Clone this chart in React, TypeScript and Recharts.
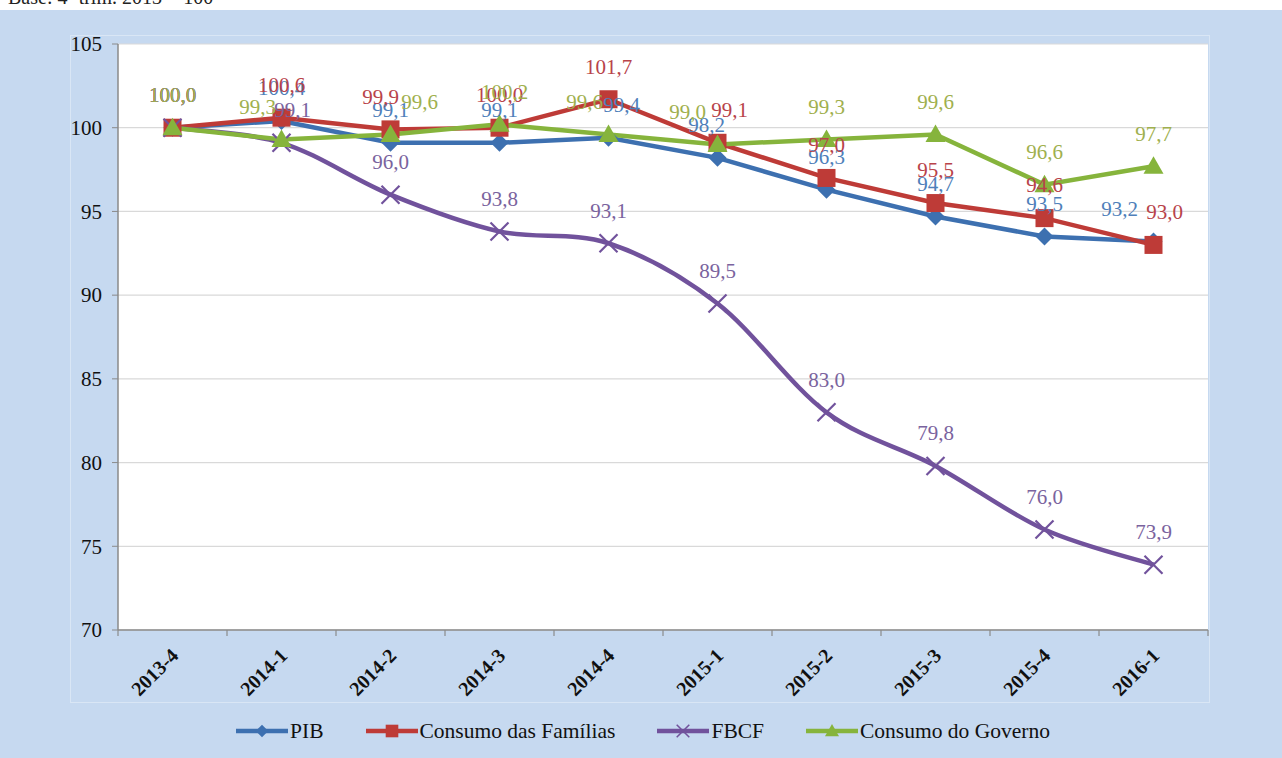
import React from 'react';
import { LineChart, Line, XAxis, YAxis, CartesianGrid, Legend, LabelList } from 'recharts';

const categories = ['2013-4', '2014-1', '2014-2', '2014-3', '2014-4', '2015-1', '2015-2', '2015-3', '2015-4', '2016-1'];
const pib = [100.0, 100.4, 99.1, 99.1, 99.4, 98.2, 96.3, 94.7, 93.5, 93.2];
const familias = [100.0, 100.6, 99.9, 100.0, 101.7, 99.1, 97.0, 95.5, 94.6, 93.0];
const fbcf = [100.0, 99.1, 96.0, 93.8, 93.1, 89.5, 83.0, 79.8, 76.0, 73.9];
const governo = [100.0, 99.3, 99.6, 100.2, 99.6, 99.0, 99.3, 99.6, 96.6, 97.7];
const yTicks = [70, 75, 80, 85, 90, 95, 100, 105];

// horizontal nudges of individual data labels (layout only), as in the reference
const labelShiftPib = [0, 0, 0, 0, 13, -11, 0, 0, 0, -34];
const labelShiftFamilias = [0, 0, -10, 0, 0, 12, 0, 0, 0, 11];
const labelShiftFbcf = [0, 11, 0, 0, 0, 0, 0, 0, 0, 0];
const labelShiftGoverno = [0, -24, 29, 5, -24, -30, 0, 0, 0, 0];

const data = categories.map((c, i) => ({
  cat: c,
  pib: pib[i],
  familias: familias[i],
  fbcf: fbcf[i],
  governo: governo[i],
}));

const FONT = '"Liberation Serif", "Times New Roman", Times, serif';

const COLORS = {
  pib: { line: '#3d70b0', label: '#4f7fba' },
  familias: { line: '#be3b37', label: '#b8434a' },
  fbcf: { line: '#71529c', label: '#7a639e' },
  governo: { line: '#86b43c', label: '#9fb04e' },
};

const fmt = (v: any) => Number(v).toFixed(1).replace('.', ',');

// Excel-like smoothing (Catmull-Rom through the points)
const smoothCurve = (context: any) => {
  let pts: number[][] = [];
  return {
    areaStart() {},
    areaEnd() {},
    lineStart() {
      pts = [];
    },
    point(x: number, y: number) {
      pts.push([+x, +y]);
    },
    lineEnd() {
      if (!pts.length) return;
      context.moveTo(pts[0][0], pts[0][1]);
      for (let i = 0; i < pts.length - 1; i++) {
        const p0 = pts[i - 1] || pts[i];
        const p1 = pts[i];
        const p2 = pts[i + 1];
        const p3 = pts[i + 2] || p2;
        const c1x = p1[0] + (p2[0] - p0[0]) / 6;
        const c1y = p1[1] + (p2[1] - p0[1]) / 6;
        const c2x = p2[0] - (p3[0] - p1[0]) / 6;
        const c2y = p2[1] - (p3[1] - p1[1]) / 6;
        context.bezierCurveTo(c1x, c1y, c2x, c2y, p2[0], p2[1]);
      }
    },
  };
};

const Diamond = (props: any) => {
  const { cx, cy } = props;
  if (cx == null || cy == null) return null;
  const r = 9;
  return <path d={`M${cx},${cy - r}L${cx + r},${cy}L${cx},${cy + r}L${cx - r},${cy}Z`} fill={COLORS.pib.line} />;
};
const Square = (props: any) => {
  const { cx, cy } = props;
  if (cx == null || cy == null) return null;
  const r = 9;
  return <rect x={cx - r} y={cy - r} width={2 * r} height={2 * r} fill={COLORS.familias.line} />;
};
const Cross = (props: any) => {
  const { cx, cy } = props;
  if (cx == null || cy == null) return null;
  const r = 9;
  return (
    <path d={`M${cx - r},${cy - r}L${cx + r},${cy + r}M${cx - r},${cy + r}L${cx + r},${cy - r}`} stroke={COLORS.fbcf.line} strokeWidth={2.2} fill="none" />
  );
};
const Triangle = (props: any) => {
  const { cx, cy } = props;
  if (cx == null || cy == null) return null;
  const r = 10;
  return <path d={`M${cx},${cy - r}L${cx + r},${cy + r * 0.75}L${cx - r},${cy + r * 0.75}Z`} fill={COLORS.governo.line} />;
};

const makeLabel = (color: string, shifts: number[]) => (props: any) => {
  const { x, y, value, index } = props;
  if (x == null || y == null) return null;
  const dx = shifts[index] || 0;
  return (
    <text x={x + dx} y={y - 33} dy="0.35em" textAnchor="middle" fill={color} style={{ fontFamily: FONT, fontSize: 21 }}>
      {fmt(value)}
    </text>
  );
};

const XTick = (props: any) => {
  const { x, y, payload, index, visibleTicksCount } = props;
  const off = payload && payload.offset ? payload.offset : 0;
  const last = index === visibleTicksCount - 1;
  const tx = x + 7;
  const ty = y + 27;
  return (
    <g>
      <line x1={x - off} y1={y} x2={x - off} y2={y + 6} stroke="#8a8a8a" strokeWidth={1.2} />
      {last && <line x1={x + off} y1={y} x2={x + off} y2={y + 6} stroke="#8a8a8a" strokeWidth={1.2} />}
      <text
        x={tx}
        y={ty}
        transform={`rotate(-45, ${tx}, ${ty})`}
        textAnchor="end"
        fill="#111"
        style={{ fontFamily: FONT, fontWeight: 'bold', fontSize: 20 }}
      >
        {payload.value}
      </text>
    </g>
  );
};

const YTick = (props: any) => {
  const { x, y, payload } = props;
  return (
    <text x={x} y={y} dy="0.35em" textAnchor="end" fill="#111" style={{ fontFamily: FONT, fontSize: 21 }}>
      {payload.value}
    </text>
  );
};

const legendItems = [
  { key: 'pib', name: 'PIB', color: COLORS.pib.line, Marker: Diamond },
  { key: 'familias', name: 'Consumo das Famílias', color: COLORS.familias.line, Marker: Square },
  { key: 'fbcf', name: 'FBCF', color: COLORS.fbcf.line, Marker: Cross },
  { key: 'governo', name: 'Consumo do Governo', color: COLORS.governo.line, Marker: Triangle },
];

const LegendContent = () => (
  <div style={{ display: 'flex', justifyContent: 'center', alignItems: 'center', height: 44, fontFamily: FONT, fontSize: 21.5, color: '#111', paddingLeft: 20 }}>
    {legendItems.map((it) => {
      const M = it.Marker;
      return (
        <div key={it.key} style={{ display: 'flex', alignItems: 'center', margin: '0 21px' }}>
          <svg width={52} height={16} style={{ marginRight: 2 }}>
            <line x1={0} y1={8} x2={52} y2={8} stroke={it.color} strokeWidth={4.5} />
            <g transform="translate(26,8) scale(0.7) translate(-26,-8)">
              <M cx={26} cy={8} />
            </g>
          </svg>
          <span style={{ fontFamily: FONT }}>{it.name}</span>
        </div>
      );
    })}
  </div>
);

export default function App() {
  return (
    <div style={{ position: 'absolute', left: 0, top: 0, width: 1282, height: 758, background: '#ffffff', overflow: 'hidden' }}>
      <div style={{ position: 'absolute', left: 8, top: -13, fontFamily: FONT, fontSize: 20, lineHeight: '20px', color: '#222', whiteSpace: 'nowrap' }}>
        Base: 4º trim. 2013 = 100
      </div>
      <div style={{ position: 'absolute', left: 0, top: 10, width: 1282, height: 748, background: '#c6d9f0' }} />
      <div style={{ position: 'absolute', left: 70, top: 35, width: 1140, height: 668, border: '1px solid #d9e6f5', boxSizing: 'border-box' }} />
      <div style={{ position: 'absolute', left: 0, top: 10 }}>
        <LineChart width={1282} height={748} data={data} margin={{ top: 34, right: 74, left: 58, bottom: 5 }}>
          <CartesianGrid vertical={false} horizontal={true} stroke="#d9d9d9" strokeWidth={1.2} fill="#ffffff" />
          <XAxis
            dataKey="cat"
            scale="band"
            type="category"
            tick={<XTick />}
            tickLine={false}
            tickSize={0}
            tickMargin={0}
            height={79}
            interval={0}
            axisLine={{ stroke: '#8a8a8a', strokeWidth: 1.5 }}
          />
          <YAxis
            domain={[70, 105]}
            ticks={yTicks}
            width={60}
            interval={0}
            tickSize={6}
            tickMargin={10}
            tickLine={{ stroke: '#8a8a8a' }}
            axisLine={{ stroke: '#8a8a8a', strokeWidth: 1.5 }}
            tick={<YTick />}
          />
          <Legend verticalAlign="bottom" align="center" content={<LegendContent />} />
          <Line dataKey="pib" name="PIB" type="linear" stroke={COLORS.pib.line} strokeWidth={4.5} dot={<Diamond />} activeDot={false} isAnimationActive={false}>
            <LabelList dataKey="pib" content={makeLabel(COLORS.pib.label, labelShiftPib)} />
          </Line>
          <Line dataKey="familias" name="Consumo das Famílias" type="linear" stroke={COLORS.familias.line} strokeWidth={4.5} dot={<Square />} activeDot={false} isAnimationActive={false}>
            <LabelList dataKey="familias" content={makeLabel(COLORS.familias.label, labelShiftFamilias)} />
          </Line>
          <Line dataKey="fbcf" name="FBCF" type={smoothCurve as any} stroke={COLORS.fbcf.line} strokeWidth={4.5} dot={<Cross />} activeDot={false} isAnimationActive={false}>
            <LabelList dataKey="fbcf" content={makeLabel(COLORS.fbcf.label, labelShiftFbcf)} />
          </Line>
          <Line dataKey="governo" name="Consumo do Governo" type="linear" stroke={COLORS.governo.line} strokeWidth={4.5} dot={<Triangle />} activeDot={false} isAnimationActive={false}>
            <LabelList dataKey="governo" content={makeLabel(COLORS.governo.label, labelShiftGoverno)} />
          </Line>
        </LineChart>
      </div>
    </div>
  );
}
